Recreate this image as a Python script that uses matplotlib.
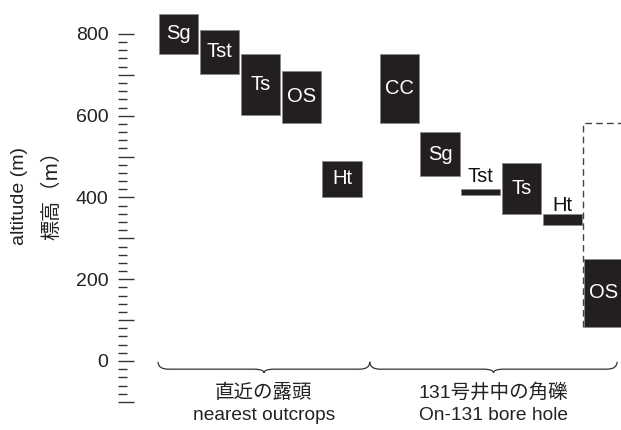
import matplotlib.pyplot as plt
import numpy as np
from matplotlib.patches import Rectangle, PathPatch
from matplotlib.path import Path
from matplotlib.ticker import FixedLocator, FuncFormatter

plt.rcParams['font.family'] = ['Liberation Sans', 'Noto Sans CJK JP']

# 直近の露頭 / nearest outcrops
outcrop_units = ['Sg', 'Tst', 'Ts', 'OS', 'Ht']
outcrop_top = [850, 810, 750, 710, 490]
outcrop_bottom = [752, 702, 602, 582, 402]

# 131号井中の角礫 / On-131 bore hole
bore_units = ['CC', 'Sg', 'Tst', 'Ts', 'Ht', 'OS']
bore_top = [750, 560, 420, 485, 360, 250]
bore_bottom = [583, 452, 407, 360, 333, 84]

# 破線の範囲 (bore hole OS)
dashed_top = 582
dashed_bottom = 84

group_jp = ['直近の露頭', '131号井中の角礫']
group_en = ['nearest outcrops', 'On-131 bore hole']

box_color = '#231f20'
line_color = '#333333'

fig = plt.figure(figsize=(6.21, 4.30), dpi=100)
ax = fig.add_axes([118 / 621, 0, 1 - 118 / 621, 1])
ax.set_xlim(-1.012, 11.316)
ax.set_ylim(-168.8, 883.1)

bore_offset = 5.40
width = 0.96
label_offset = {'Tst': 18, 'Ht': 8}


def draw_column(x, top, bottom, name):
    ax.add_patch(Rectangle((x, bottom), width, top - bottom,
                           fc=box_color, ec='#8a8a8a', lw=0.6))
    if top - bottom < 50:
        # thin layer: label above
        off = label_offset.get(name, 12)
        ax.text(x + width / 2, top + off, name, ha='center', va='baseline',
                fontsize=14.5, color='#111111')
    else:
        ax.text(x + width / 2, (top + bottom) / 2, name, ha='center',
                va='center', fontsize=14.5, color='white')


for i, name in enumerate(outcrop_units):
    draw_column(i, outcrop_top[i], outcrop_bottom[i], name)

for i, name in enumerate(bore_units):
    draw_column(bore_offset + i, bore_top[i], bore_bottom[i], name)

# dashed outline around bore hole OS
xd = bore_offset + len(bore_units) - 1 - 0.023
ax.plot([xd, xd, 12], [dashed_bottom, dashed_top, dashed_top],
        color='#444444', lw=1.0, ls=(0, (4.8, 3)), clip_on=True)


def brace(x0, x1, y_end=-2, y_line=-20, y_tip=-29, r=0.25):
    xc = (x0 + x1) / 2
    verts = [(x0, y_end), (x0, y_line), (x0 + r, y_line),
             (xc - r, y_line), (xc, y_line), (xc, y_tip),
             (xc, y_line), (xc + r, y_line),
             (x1 - r, y_line), (x1, y_line), (x1, y_end)]
    codes = [Path.MOVETO, Path.CURVE3, Path.CURVE3,
             Path.LINETO, Path.CURVE3, Path.CURVE3,
             Path.CURVE3, Path.CURVE3,
             Path.LINETO, Path.CURVE3, Path.CURVE3]
    ax.add_patch(PathPatch(Path(verts, codes), fc='none', ec=line_color,
                           lw=0.9))
    return xc


spans = [(-0.03, 5.16), (5.16, 11.22)]
for (x0, x1), jp, en in zip(spans, group_jp, group_en):
    xc = brace(x0, x1)
    ax.text(xc, -78, jp, ha='center', va='center', fontsize=14,
            color='#222222')
    ax.text(xc, -133, en, ha='center', va='center', fontsize=13.8,
            color='#222222')

# y axis: ticks only
for s in ax.spines.values():
    s.set_visible(False)
ax.set_xticks([])
ax.yaxis.set_major_locator(FixedLocator(np.arange(-100, 801, 100)))
ax.yaxis.set_minor_locator(FixedLocator(np.arange(-100, 801, 20)))
ax.yaxis.set_major_formatter(FuncFormatter(
    lambda v, p: '%d' % v if v >= 0 and v % 200 == 0 else ''))
ax.tick_params(axis='y', which='major', direction='in', length=11.5,
               width=1.0, color=line_color, pad=7, labelsize=14,
               labelcolor='#222222')
ax.tick_params(axis='y', which='minor', direction='in', length=6.5,
               width=1.0, color=line_color)

fig.text(20 / 621, 1 - 196 / 430, 'altitude (m)', rotation=90, ha='center',
         va='center', fontsize=14, color='#222222')
fig.text(52 / 621, 1 - 190 / 430, '標高（m）', rotation=90, ha='center',
         va='center', fontsize=14.5, color='#222222',
         family=['Noto Sans CJK JP', 'DejaVu Sans'])

fig.savefig('out.png', dpi=100)
